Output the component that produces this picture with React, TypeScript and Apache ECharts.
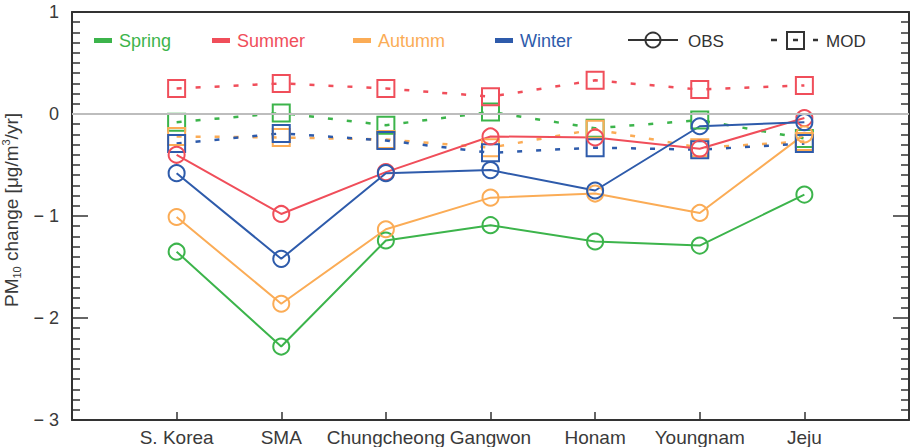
import React, { useEffect, useRef } from 'react';
import * as echarts from 'echarts';

// Regions along the x axis
const categories = ['S. Korea', 'SMA', 'Chungcheong', 'Gangwon', 'Honam', 'Youngnam', 'Jeju'];
const seasons = ['Spring', 'Summer', 'Autumm', 'Winter'];

// Observed PM10 trends (µg/m³/yr)
const obsSpring = [-1.35, -2.28, -1.24, -1.09, -1.25, -1.29, -0.79];
const obsSummer = [-0.4, -0.98, -0.57, -0.22, -0.23, -0.34, -0.04];
const obsAutumn = [-1.01, -1.86, -1.13, -0.82, -0.78, -0.97, -0.2];
const obsWinter = [-0.58, -1.42, -0.58, -0.55, -0.75, -0.12, -0.08];

// Modelled PM10 trends (µg/m³/yr)
const modSpring = [-0.08, 0.01, -0.11, 0.02, -0.14, -0.06, -0.24];
const modSummer = [0.25, 0.3, 0.25, 0.17, 0.33, 0.24, 0.28];
const modAutumn = [-0.22, -0.23, -0.25, -0.33, -0.15, -0.33, -0.27];
const modWinter = [-0.29, -0.19, -0.26, -0.38, -0.33, -0.35, -0.29];

const yTicks = [-3, -2, -1, 0, 1];
const zeroLine = 0;

const seasonColors = ['#3cb44b', '#f04e5a', '#fbac56', '#2e5bab'];
const FONT = '"Liberation Sans", Arial, Helvetica, sans-serif';
const AXIS_COLOR = '#333';
const LABEL_COLOR = '#3a3a3a';

const obsSeries = [obsSpring, obsSummer, obsAutumn, obsWinter];
const modSeries = [modSpring, modSummer, modAutumn, modWinter];

const toPoints = (values: number[]) => values.map((v, i) => [i + 1, v]);

export default function App() {
  const ref = useRef<HTMLDivElement>(null);

  useEffect(() => {
    const chart = echarts.init(ref.current!, null, { renderer: 'svg' });

    const modLines = modSeries.map((vals, k) => ({
      name: `${seasons[k]} MOD`,
      type: 'line',
      data: toPoints(vals),
      symbol: 'rect',
      symbolSize: 17,
      itemStyle: { color: 'rgba(0,0,0,0)', borderColor: seasonColors[k], borderWidth: 2 },
      lineStyle: { color: seasonColors[k], width: 2.5, type: [5, 14] },
      ...(k === 0
        ? {
            markLine: {
              silent: true,
              symbol: ['none', 'none'],
              label: { show: false },
              lineStyle: { color: '#bdbdbd', width: 2, type: 'solid' },
              data: [{ yAxis: zeroLine }],
            },
          }
        : {}),
    }));

    const obsLines = obsSeries.map((vals, k) => ({
      name: `${seasons[k]} OBS`,
      type: 'line',
      data: toPoints(vals),
      symbol: 'circle',
      symbolSize: 16,
      itemStyle: { color: 'rgba(0,0,0,0)', borderColor: seasonColors[k], borderWidth: 2 },
      lineStyle: { color: seasonColors[k], width: 2 },
    }));

    // Legend: season swatches, then OBS / MOD line styles
    const seasonLegendX = [94, 212, 353, 495];
    const legendY = 41;
    const legend: any[] = [];
    seasons.forEach((s, k) => {
      legend.push({
        type: 'rect',
        shape: { x: seasonLegendX[k], y: legendY - 3, width: 18, height: 5 },
        style: { fill: seasonColors[k] },
      });
      legend.push({
        type: 'text',
        x: seasonLegendX[k] + 25,
        y: legendY,
        style: {
          text: s,
          fill: seasonColors[k],
          font: `18px ${FONT}`,
          verticalAlign: 'middle',
        },
      });
    });
    legend.push(
      {
        type: 'line',
        shape: { x1: 628, y1: legendY - 1, x2: 678, y2: legendY - 1 },
        style: { stroke: AXIS_COLOR, lineWidth: 2 },
      },
      {
        type: 'circle',
        shape: { cx: 653, cy: legendY - 1, r: 7.5 },
        style: { stroke: AXIS_COLOR, lineWidth: 2, fill: 'rgba(0,0,0,0)' },
      },
      {
        type: 'text',
        x: 688,
        y: legendY,
        style: { text: 'OBS', fill: AXIS_COLOR, font: `17px ${FONT}`, verticalAlign: 'middle' },
      },
      {
        type: 'line',
        shape: { x1: 771, y1: legendY - 1, x2: 777, y2: legendY - 1 },
        style: { stroke: AXIS_COLOR, lineWidth: 2.5 },
      },
      {
        type: 'rect',
        shape: { x: 787, y: legendY - 9, width: 17, height: 17 },
        style: { stroke: AXIS_COLOR, lineWidth: 2, fill: 'rgba(0,0,0,0)' },
      },
      {
        type: 'line',
        shape: { x1: 793, y1: legendY - 1, x2: 798, y2: legendY - 1 },
        style: { stroke: AXIS_COLOR, lineWidth: 2.5 },
      },
      {
        type: 'line',
        shape: { x1: 813, y1: legendY - 1, x2: 818, y2: legendY - 1 },
        style: { stroke: AXIS_COLOR, lineWidth: 2.5 },
      },
      {
        type: 'text',
        x: 826,
        y: legendY,
        style: { text: 'MOD', fill: AXIS_COLOR, font: `17px ${FONT}`, verticalAlign: 'middle' },
      }
    );

    const yLabel = (v: number) => {
      if (!yTicks.includes(v)) return '';
      return v < 0 ? `\u2212 ${Math.abs(v)}` : `${v}`;
    };

    const axisLine = { show: true, onZero: false, lineStyle: { color: AXIS_COLOR, width: 2 } };

    chart.setOption({
      animation: false,
      textStyle: { fontFamily: FONT },
      grid: { left: 72, right: 11, top: 12, bottom: 27, containLabel: false, outerBoundsMode: 'none' },
      xAxis: [
        {
          type: 'value',
          min: 0,
          max: 8,
          interval: 1,
          position: 'bottom',
          axisLine,
          axisTick: { show: true, inside: true, length: 8, lineStyle: { color: AXIS_COLOR, width: 1.5 } },
          axisLabel: {
            formatter: (v: number) => categories[v - 1] ?? '',
            fontSize: 19,
            color: LABEL_COLOR,
            fontFamily: FONT,
            margin: 8,
          },
          splitLine: { show: false },
        },
        {
          type: 'value',
          min: 0,
          max: 8,
          interval: 1,
          position: 'top',
          axisLine,
          axisTick: { show: false },
          axisLabel: { show: false },
          splitLine: { show: false },
        },
      ],
      yAxis: [
        {
          type: 'value',
          min: -3,
          max: 1,
          interval: 1,
          position: 'left',
          axisLine,
          axisTick: { show: true, inside: true, length: 16, lineStyle: { color: AXIS_COLOR, width: 1.5 } },
          minorTick: { show: true, splitNumber: 10, length: 8, lineStyle: { color: AXIS_COLOR, width: 1.5 } },
          axisLabel: { formatter: yLabel, fontSize: 18, color: LABEL_COLOR, fontFamily: FONT, margin: 13 },
          splitLine: { show: false },
          name: 'PM{sub|10} change [μg/m{sup|3}/yr]',
          nameLocation: 'middle',
          nameGap: 48,
          nameRotate: 90,
          nameTextStyle: {
            fontSize: 19,
            color: LABEL_COLOR,
            fontFamily: FONT,
            lineHeight: 22,
            padding: [0, 0, 0, 12],
            rich: {
              sub: { fontSize: 11, verticalAlign: 'bottom', lineHeight: 22, color: LABEL_COLOR, fontFamily: FONT },
              sup: { fontSize: 11, verticalAlign: 'top', lineHeight: 22, color: LABEL_COLOR, fontFamily: FONT },
            },
          },
        },
        {
          type: 'value',
          min: -3,
          max: 1,
          interval: 1,
          position: 'right',
          axisLine,
          axisTick: { show: true, inside: true, length: 16, lineStyle: { color: AXIS_COLOR, width: 1.5 } },
          minorTick: { show: true, splitNumber: 10, length: 8, lineStyle: { color: AXIS_COLOR, width: 1.5 } },
          axisLabel: { show: false },
          splitLine: { show: false },
        },
      ],
      graphic: legend,
      series: [...modLines, ...obsLines],
    });

    return () => chart.dispose();
  }, []);

  return (
    <div
      ref={ref}
      style={{ position: 'fixed', left: 0, top: 0, width: 920, height: 447, background: '#fff' }}
    />
  );
}
